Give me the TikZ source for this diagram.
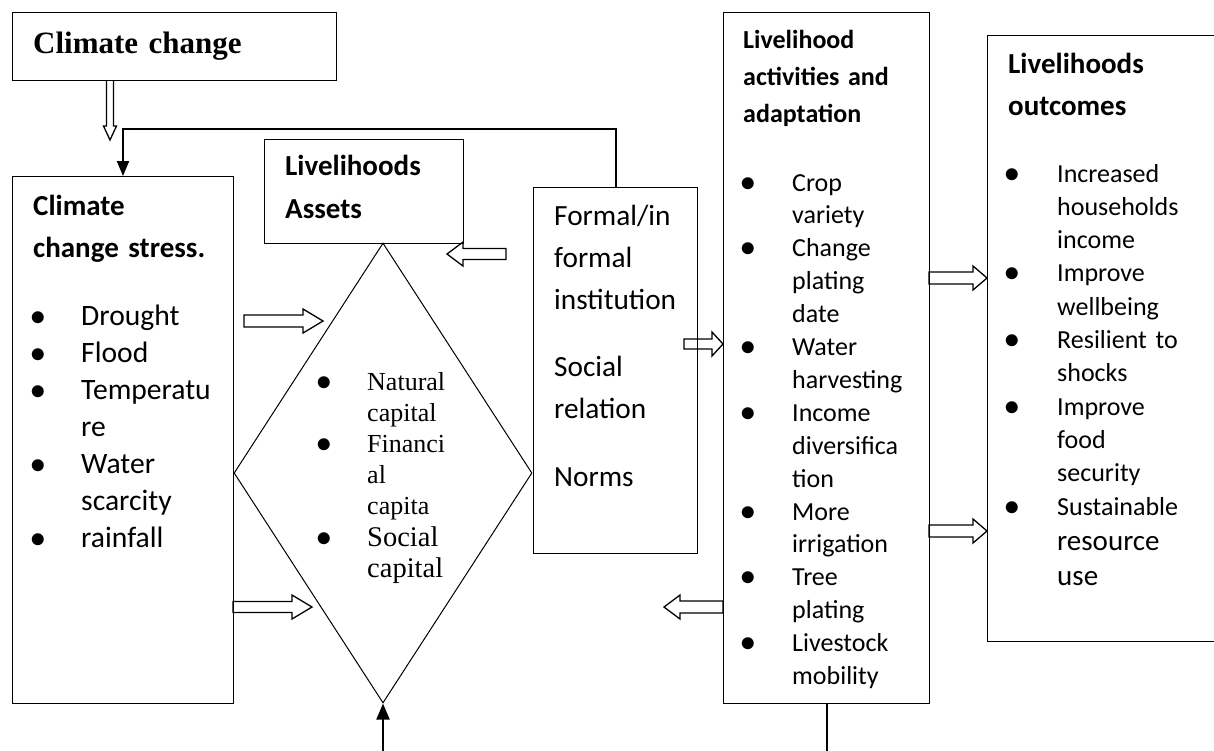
\documentclass[tikz,border=0pt]{standalone}
\usepackage{fontspec}
\setmainfont{Carlito}
\newfontfamily\tnr{Liberation Serif}
\usetikzlibrary{shapes.geometric,arrows.meta}
\newcommand\bul{\scalebox{1.25}{$\bullet$}}
\newcommand\bu[1]{\leavevmode\llap{\bul\hspace{#1}}}
\newcommand\harrow[6]{% x1, xtip, y, shaft half, head half, head length (signed)
  \draw[blk] (#1,#3-#4) -- ({#2-(#6)},#3-#4) -- ({#2-(#6)},#3-#5) -- (#2,#3)
    -- ({#2-(#6)},#3+#5) -- ({#2-(#6)},#3+#4) -- (#1,#3+#4) -- cycle;}
\begin{document}
\begin{tikzpicture}[x=1pt,y=-1pt,
  box/.style={draw,line width=1.3pt,inner sep=0pt,anchor=north west},
  txt/.style={inner sep=0pt,anchor=base west,align=left,text width=320pt},
  conn/.style={line width=2pt},
  blk/.style={draw,line width=1.3pt,line join=miter}]
\useasboundingbox (0,0) rectangle (1214,750);
\fill[white] (0,0) rectangle (1214,750);
\clip (0,0) rectangle (1214,750);

% boxes
\node[box,minimum width=324pt,minimum height=68pt] (cc) at (12,12) {};
\node[box,minimum width=221pt,minimum height=527pt] (stress) at (12,176) {};
\node[box,minimum width=199pt,minimum height=104pt] (assetsbox) at (264,139) {};
\node[box,minimum width=164pt,minimum height=366pt] (inst) at (533,187) {};
\node[box,minimum width=206pt,minimum height=691pt] (act) at (723,12) {};
\node[box,minimum width=260pt,minimum height=606pt] (out) at (987,35) {};
\node[draw,line width=1pt,shape=diamond,minimum width=298pt,minimum height=460pt,inner sep=0pt] (dia) at (383,473) {};

% block arrows
\draw[blk] (106.5,80) -- (106.5,126) -- (103.5,126) -- (110,140) -- (116.5,126) -- (113.5,126) -- (113.5,80);
\harrow{244}{323}{321}{6}{12}{20}
\harrow{233}{312}{607}{5.5}{12}{20}
\harrow{506}{447}{254}{5.5}{12}{-16}
\harrow{684}{723}{344}{5}{12}{11}
\harrow{723}{664}{607}{6}{12}{-16}
\harrow{929}{987}{278}{6}{12}{14}
\harrow{929}{987}{531}{6}{12}{14}

% connectors
\coordinate (fb) at (123,129);
\draw[conn,-{Triangle[length=15pt,width=12pt]}] (inst.north) |- (fb) -- (fb |- stress.north);
\coordinate (b1) at (383,752);
\draw[conn,-{Triangle[length=16pt,width=13pt]}] (b1) -- (dia.south);
\coordinate (b2) at (act.south |- b1);
\draw[conn] (act.south) -- (b2);

% texts
\node[txt,font=\tnr\bfseries\fontsize{31}{37}\selectfont] (tcc) at (33,53) {Climate change};
\node[txt,font=\bfseries\fontsize{29}{42}\selectfont] (tstressh) at (33,215) {Climate\\change stress.};
\node[txt,font=\fontsize{29.6}{37}\selectfont] (tstress) at (81,325)
  {\bu{35pt}Drought\\\bu{35pt}Flood\\\bu{35pt}Temperatu\\re\\\bu{35pt}Water\\scarcity\\\bu{35pt}rainfall};
\node[txt,font=\bfseries\fontsize{29}{43}\selectfont] (tassets) at (285,175) {Livelihoods\\Assets};
\node[txt,font=\tnr\fontsize{26}{31}\selectfont] (tdia) at (367,390)
  {\bu{35pt}Natural\\capital\\\bu{35pt}Financi\\al\\capita\\\bu{35pt}{\fontsize{28.5}{32}\selectfont Social\\capital}};
\node[txt,font=\fontsize{29.3}{42}\selectfont] (tinst) at (554,225)
  {Formal/in\\formal\\institution\\[25pt]Social\\relation\\[26pt]Norms};
\node[txt,font=\bfseries\fontsize{26}{37}\selectfont] (tacth) at (743,48) {Livelihood\\activities and\\adaptation};
\node[txt,font=\fontsize{26}{32.9}\selectfont] (tact) at (792,191)
  {\bu{36pt}Crop\\variety\\\bu{36pt}Change\\plating\\date\\\bu{36pt}Water\\harvesting\\\bu{36pt}Income\\diversifica\\tion\\\bu{36pt}More\\irrigation\\\bu{36pt}Tree\\plating\\\bu{36pt}Livestock\\mobility};
\node[txt,font=\bfseries\fontsize{29}{42}\selectfont] (touth) at (1008,73) {Livelihoods\\outcomes};
\node[txt,font=\fontsize{26}{33.3}\selectfont] (tout) at (1057,182)
  {\bu{37pt}Increased\\households\\income\\\bu{37pt}Improve\\wellbeing\\\bu{37pt}Resilient to\\shocks\\\bu{37pt}Improve\\food\\security\\\bu{37pt}Sustainable\\{\fontsize{29}{35}\selectfont resource\\[2pt]use}};
\end{tikzpicture}
\end{document}
